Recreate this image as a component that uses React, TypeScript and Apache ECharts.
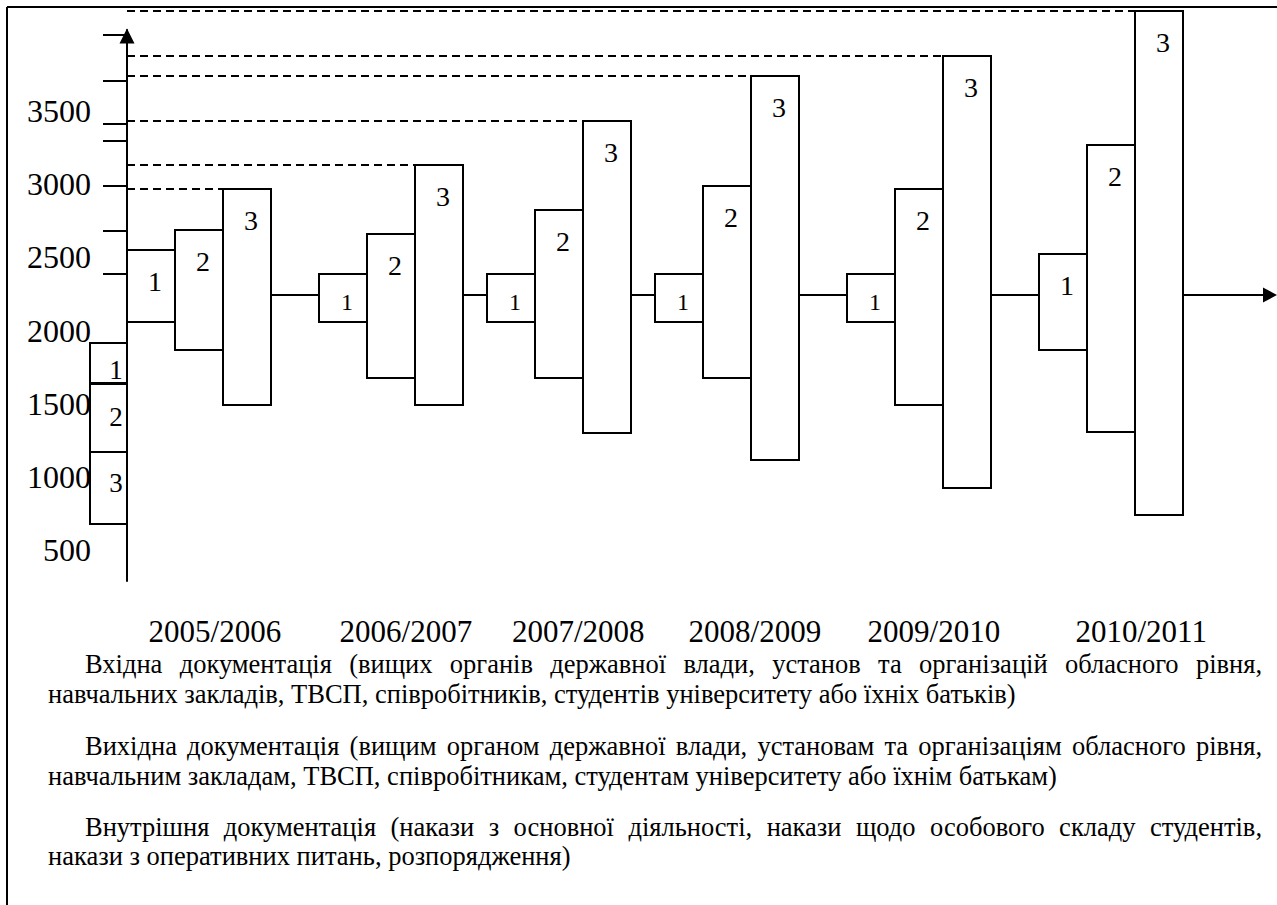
import React, { useEffect, useRef } from "react";
import * as echarts from "echarts";

// ---------- data ----------
const YEARS = ["2005/2006", "2006/2007", "2007/2008", "2008/2009", "2009/2010", "2010/2011"];
// 1 — incoming documents (lower / upper edge of the box, y-axis units)
const INCOMING_LOW = [2056, 2056, 2056, 2056, 2056, 1867];
const INCOMING_HIGH = [2552, 2386, 2384, 2384, 2383, 2524];
// 2 — outgoing documents
const OUTGOING_LOW = [1867, 1677, 1677, 1677, 1489, 1303];
const OUTGOING_HIGH = [2689, 2662, 2826, 2990, 2967, 3271];
// 3 — internal documents
const INTERNAL_LOW = [1489, 1489, 1300, 1113, 924, 736];
const INTERNAL_HIGH = [2967, 3131, 3434, 3737, 3877, 4181];

const CENTER_VALUE = 2245;
const Y_LABELS = [500, 1000, 1500, 2000, 2500, 3000, 3500];
const Y_TICKS = [2385, 2685, 2990, 3295, 3410, 3710, 4020];
const Y_MIN = 288;
const Y_MAX = 4054;
const LEGEND_NUMBERS = ["1", "2", "3"];

const PARAGRAPHS = [
  [
    "Вхідна документація (вищих органів державної влади, установ та організацій обласного рівня,",
    "навчальних закладів, ТВСП, співробітників, студентів університету або їхніх батьків)",
  ],
  [
    "Вихідна документація (вищим органом державної влади, установам та організаціям обласного рівня,",
    "навчальним закладам, ТВСП, співробітникам, студентам університету або їхнім батькам)",
  ],
  [
    "Внутрішня документація (накази з основної діяльності, накази щодо особового складу студентів,",
    "накази з оперативних питань, розпорядження)",
  ],
];

// ---------- layout (box-width units on the hidden x axis) ----------
const GROUP_START = [0, 4, 7.5, 11, 15, 19];
const YEAR_LABEL_POS = [1.83, 5.81, 9.4, 13.08, 16.81, 21.13];
const BOX_PX = 48;
const GRID_LEFT = 127;
const GRID_TOP = 30;
const GRID_BOTTOM = 324;
const X_MAX = (1277 - GRID_LEFT) / BOX_PX;

const FONT = "'Liberation Serif', 'Times New Roman', serif";
const BODY_SIZE = 26.5;
const BODY_FIRST_X = 85;
const BODY_X = 48;
const BODY_RIGHT = 1262;
const BODY_BASELINES = [[673, 703], [755, 785], [836, 865]];

function measure(text: string, size: number): number {
  const c = document.createElement("canvas");
  const ctx = c.getContext("2d");
  if (!ctx) return text.length * size * 0.45;
  ctx.font = `${size}px 'Liberation Serif'`;
  return ctx.measureText(text).width;
}

function bodyGraphics(): any[] {
  const out: any[] = [];
  const mid = BODY_SIZE * 0.3375;
  PARAGRAPHS.forEach((lines, p) => {
    // first line: justified
    const words = lines[0].split(" ");
    const widths = words.map((w) => measure(w, BODY_SIZE));
    const total = widths.reduce((a, b) => a + b, 0);
    const space = measure(" ", BODY_SIZE);
    let gap = (BODY_RIGHT - BODY_FIRST_X - total) / (words.length - 1);
    if (gap < space * 0.8) gap = space;
    let x = BODY_FIRST_X;
    words.forEach((w, i) => {
      out.push({
        type: "text",
        x,
        y: BODY_BASELINES[p][0] - mid,
        style: { text: w, fontSize: BODY_SIZE, fontFamily: FONT, fill: "#000", align: "left", verticalAlign: "middle" },
      });
      x += widths[i] + gap;
    });
    out.push({
      type: "text",
      x: BODY_X,
      y: BODY_BASELINES[p][1] - mid,
      style: { text: lines[1], fontSize: BODY_SIZE, fontFamily: FONT, fill: "#000", align: "left", verticalAlign: "middle" },
    });
  });
  return out;
}

function boxRenderer(slot: number, label: string, withGuide: boolean) {
  return (params: any, api: any) => {
    const g = api.value(0);
    const low = api.value(1);
    const high = api.value(2);
    const x0 = GROUP_START[g] + slot;
    const pTop = api.coord([x0, high]);
    const pBot = api.coord([x0 + 1, low]);
    const x = Math.round(pTop[0]);
    const y = Math.round(pTop[1]);
    const w = Math.round(pBot[0]) - x;
    const h = Math.round(pBot[1]) - y;
    const small = h < 60;
    const children: any[] = [];
    if (withGuide) {
      const axisX = Math.round(api.coord([0, high])[0]);
      children.push({
        type: "line",
        shape: { x1: axisX, y1: y, x2: x, y2: y },
        style: { stroke: "#000", lineWidth: 2, lineDash: [8, 5] },
      });
    }
    children.push({
      type: "rect",
      shape: { x, y, width: w, height: h },
      style: { fill: "#fff", stroke: "#000", lineWidth: 2 },
    });
    children.push({
      type: "text",
      x: x + w / 2 + 4,
      y: small ? y + h / 2 + 4 : y + 31,
      style: {
        text: label,
        fontSize: small ? 24 : 28,
        fontFamily: FONT,
        fill: "#000",
        align: "center",
        verticalAlign: "middle",
      },
    });
    return { type: "group", children };
  };
}

function centerLineRenderer(params: any, api: any) {
  const cs = params.coordSys;
  const y = Math.round(api.coord([0, api.value(1)])[1]);
  const right = cs.x + cs.width;
  return {
    type: "group",
    children: [
      { type: "line", shape: { x1: cs.x, y1: y, x2: right - 10, y2: y }, style: { stroke: "#000", lineWidth: 2 } },
      {
        type: "polygon",
        shape: { points: [[right - 14, y - 7.5], [right, y], [right - 14, y + 7.5]] },
        style: { fill: "#000" },
      },
    ],
  };
}

export default function App() {
  const ref = useRef<HTMLDivElement>(null);
  useEffect(() => {
    if (!ref.current) return;
    const chart = echarts.init(ref.current, null, { renderer: "svg" });
    const boxData = (lo: number[], hi: number[]) => YEARS.map((_, i) => [i, lo[i], hi[i]]);

    const legendTops = [343, 384, 452];
    const legendHeights = [40, 68, 72];
    const legendLabelY = [370, 417, 483];

    const graphic: any[] = [
      { type: "line", shape: { x1: 7, y1: 7, x2: 1277, y2: 7 }, style: { stroke: "#000", lineWidth: 2 } },
      { type: "line", shape: { x1: 7, y1: 7, x2: 7, y2: 905 }, style: { stroke: "#000", lineWidth: 2 } },
      ...LEGEND_NUMBERS.flatMap((n, i) => [
        {
          type: "rect",
          shape: { x: 90, y: legendTops[i], width: 37, height: legendHeights[i] },
          style: { fill: "none", stroke: "#000", lineWidth: 2 },
        },
        {
          type: "text",
          x: 116,
          y: legendLabelY[i],
          style: { text: n, fontSize: 27, fontFamily: FONT, fill: "#000", align: "center", verticalAlign: "middle" },
        },
      ]),
      ...bodyGraphics(),
    ];

    chart.setOption({
      animation: false,
      backgroundColor: "#fff",
      grid: { left: GRID_LEFT, right: 0, top: GRID_TOP, bottom: GRID_BOTTOM },
      xAxis: {
        type: "value",
        min: 0,
        max: X_MAX,
        axisLine: { show: false },
        axisTick: { show: false },
        splitLine: { show: false },
        axisLabel: {
          show: true,
          customValues: YEAR_LABEL_POS,
          hideOverlap: false,
          margin: 50,
          verticalAlign: "middle",
          fontSize: 31,
          fontFamily: FONT,
          color: "#000",
          formatter: (v: number) => {
            let best = 0;
            YEAR_LABEL_POS.forEach((p, i) => {
              if (Math.abs(p - v) < Math.abs(YEAR_LABEL_POS[best] - v)) best = i;
            });
            return YEARS[best];
          },
        },
      },
      yAxis: {
        type: "value",
        min: Y_MIN,
        max: Y_MAX,
        axisLine: {
          show: true,
          onZero: false,
          symbol: ["none", "triangle"],
          symbolSize: [15, 15],
          symbolOffset: [0, -6],
          lineStyle: { color: "#000", width: 2 },
        },
        axisTick: {
          show: true,
          inside: false,
          length: 24,
          customValues: Y_TICKS,
          lineStyle: { color: "#000", width: 2 },
        },
        axisLabel: {
          show: true,
          customValues: Y_LABELS,
          margin: 36,
          fontSize: 32,
          fontFamily: FONT,
          color: "#000",
          formatter: (v: number) => String(Math.round(v)),
        },
        splitLine: { show: false },
      },
      graphic,
      series: [
        {
          type: "custom",
          name: "axis",
          z: 1,
          silent: true,
          clip: false,
          data: [[0, CENTER_VALUE]],
          renderItem: centerLineRenderer,
        },
        {
          type: "custom",
          name: "Вхідна документація",
          z: 2,
          clip: false,
          encode: { x: 0, y: [1, 2] },
          data: boxData(INCOMING_LOW, INCOMING_HIGH),
          renderItem: boxRenderer(0, "1", false),
        },
        {
          type: "custom",
          name: "Вихідна документація",
          z: 2,
          clip: false,
          encode: { x: 0, y: [1, 2] },
          data: boxData(OUTGOING_LOW, OUTGOING_HIGH),
          renderItem: boxRenderer(1, "2", false),
        },
        {
          type: "custom",
          name: "Внутрішня документація",
          z: 2,
          clip: false,
          encode: { x: 0, y: [1, 2] },
          data: boxData(INTERNAL_LOW, INTERNAL_HIGH),
          renderItem: boxRenderer(2, "3", true),
        },
      ],
    });
    return () => chart.dispose();
  }, []);

  return (
    <div
      ref={ref}
      style={{ position: "fixed", left: 0, top: 0, width: 1277, height: 905, background: "#fff" }}
    />
  );
}
